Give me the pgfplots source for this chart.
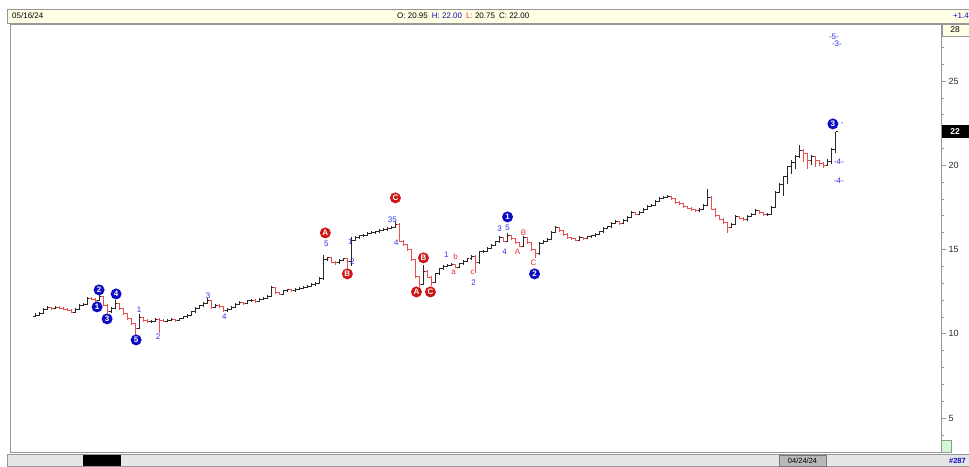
\documentclass[border=0pt]{standalone}
\usepackage{pgfplots}
\pgfplotsset{compat=1.18}
\usepackage{pgfplotstable}
\usepackage{fontspec}
\setmainfont{Liberation Sans}

\definecolor{wblue}{RGB}{12,12,195}
\definecolor{wred}{RGB}{205,22,22}
\definecolor{lblue}{RGB}{45,45,230}
\definecolor{lred}{RGB}{228,50,50}
\definecolor{barred}{RGB}{236,78,78}
\definecolor{barblk}{RGB}{40,40,40}
\definecolor{hdr}{RGB}{255,255,230}
\definecolor{ftr}{RGB}{230,230,230}
\definecolor{frame}{RGB}{150,150,150}

% open / close ticks of an OHLC bar
\pgfdeclareplotmark{cltick}{\pgfpathmoveto{\pgfpointorigin}\pgfpathlineto{\pgfpoint{\pgfplotmarksize}{0pt}}\pgfusepathqstroke}
\pgfdeclareplotmark{optick}{\pgfpathmoveto{\pgfpointorigin}\pgfpathlineto{\pgfpoint{-\pgfplotmarksize}{0pt}}\pgfusepathqstroke}

\tikzset{
  bluedot/.style={circle, fill=wblue, text=white, inner sep=0pt, minimum size=11pt, font=\bfseries\fontsize{8}{8}\selectfont},
  reddot/.style={circle, fill=wred, text=white, inner sep=0pt, minimum size=11pt, font=\bfseries\fontsize{8}{8}\selectfont},
  blab/.style={text=lblue, inner sep=0pt, font=\fontsize{8}{8}\selectfont},
  rlab/.style={text=lred, inner sep=0pt, font=\fontsize{8}{8}\selectfont},
}

% bars that closed up: i open high low close
\pgfplotstableread{
i o h l c
0 11.05 11.20 10.98 11.10
1 11.10 11.30 11.05 11.20
2 11.20 11.55 11.15 11.45
3 11.45 11.62 11.40 11.55
5 11.50 11.66 11.45 11.58
10 11.28 11.52 11.24 11.45
11 11.45 11.78 11.40 11.70
12 11.70 11.85 11.65 11.75
13 11.75 12.18 11.70 12.10
16 11.98 12.30 11.92 12.20
19 11.30 11.58 11.25 11.50
20 11.50 12.00 11.45 11.80
26 10.30 11.15 10.25 10.95
29 10.70 10.82 10.65 10.75
30 10.75 10.92 10.70 10.85
33 10.75 10.88 10.70 10.80
34 10.80 10.92 10.75 10.85
36 10.78 10.96 10.74 10.90
37 10.90 11.06 10.85 11.00
38 11.00 11.16 10.95 11.10
39 11.10 11.36 11.05 11.30
40 11.30 11.56 11.25 11.50
41 11.50 11.72 11.45 11.65
42 11.65 11.86 11.60 11.80
43 11.80 12.10 11.75 11.95
45 11.55 11.78 11.50 11.70
48 11.35 11.52 11.30 11.45
49 11.45 11.62 11.40 11.55
50 11.55 11.82 11.50 11.75
51 11.75 11.92 11.70 11.85
53 11.80 12.02 11.75 11.95
54 11.95 12.08 11.90 12.00
56 11.92 12.12 11.88 12.05
57 12.05 12.18 12.00 12.10
58 12.10 12.28 12.05 12.20
59 12.20 12.85 12.15 12.75
62 12.35 12.62 12.30 12.55
63 12.55 12.68 12.50 12.60
65 12.55 12.72 12.50 12.65
66 12.65 12.78 12.60 12.70
67 12.70 12.82 12.65 12.75
68 12.75 12.88 12.70 12.80
69 12.80 12.98 12.75 12.90
70 12.90 13.08 12.85 13.00
71 13.00 13.35 12.95 13.25
72 13.25 14.65 13.20 14.40
73 14.40 14.58 14.30 14.50
76 14.20 14.42 14.15 14.35
77 14.35 14.52 14.30 14.45
79 14.30 15.75 14.00 15.55
80 15.55 15.78 15.50 15.70
81 15.70 15.88 15.62 15.80
82 15.80 15.92 15.75 15.85
83 15.85 16.02 15.80 15.95
84 15.95 16.08 15.90 16.00
85 16.00 16.10 15.92 16.05
86 16.05 16.22 16.00 16.15
87 16.15 16.28 16.10 16.20
88 16.20 16.32 16.12 16.25
89 16.25 16.38 16.20 16.30
90 16.30 16.70 16.25 16.50
97 12.95 14.10 12.90 13.70
100 13.05 13.62 13.00 13.55
101 13.55 13.92 13.50 13.85
102 13.85 14.08 13.80 14.00
103 14.00 14.12 13.95 14.05
104 14.05 14.18 14.00 14.10
106 13.95 14.22 13.90 14.15
107 14.15 14.38 14.10 14.30
108 14.30 14.52 14.25 14.45
109 14.45 14.68 14.40 14.60
111 14.20 14.92 14.15 14.85
112 14.85 14.98 14.80 14.90
113 14.90 15.12 14.85 15.05
114 15.05 15.32 15.00 15.25
115 15.25 15.52 15.20 15.45
116 15.45 15.78 15.40 15.70
118 15.50 16.00 15.45 15.80
122 15.20 15.78 15.15 15.70
126 14.75 15.42 14.70 15.35
127 15.35 15.58 15.30 15.50
128 15.50 15.68 15.45 15.60
129 15.60 16.08 15.55 16.00
130 16.00 16.38 15.95 16.30
136 15.55 15.78 15.50 15.70
138 15.65 15.82 15.60 15.75
139 15.75 15.88 15.70 15.80
140 15.80 15.98 15.75 15.90
141 15.90 16.12 15.85 16.05
142 16.05 16.32 16.00 16.25
143 16.25 16.42 16.20 16.35
144 16.35 16.62 16.30 16.55
145 16.55 16.72 16.50 16.65
147 16.55 16.78 16.50 16.70
148 16.70 16.98 16.65 16.90
149 16.90 17.28 16.85 17.20
151 17.10 17.28 17.05 17.20
152 17.20 17.48 17.15 17.40
153 17.40 17.62 17.35 17.55
154 17.55 17.68 17.50 17.60
155 17.60 17.92 17.55 17.85
156 17.85 18.12 17.80 18.05
157 18.05 18.18 18.00 18.10
158 18.10 18.25 18.05 18.15
166 17.30 17.48 17.25 17.40
167 17.40 17.68 17.35 17.60
168 17.60 18.60 17.55 18.10
174 16.30 16.58 16.25 16.50
175 16.50 17.02 16.45 16.95
178 16.75 17.02 16.70 16.95
179 16.95 17.18 16.90 17.10
180 17.10 17.38 17.05 17.30
183 17.05 17.18 17.00 17.10
184 17.10 17.58 17.05 17.50
185 17.50 18.48 17.45 18.40
186 18.40 18.92 18.35 18.85
187 18.85 19.38 18.20 19.30
188 19.30 19.98 18.90 19.90
189 19.90 20.30 19.50 20.15
190 20.15 20.58 19.80 20.50
191 20.50 21.20 20.40 20.90
194 20.30 20.60 20.00 20.50
198 20.00 20.35 19.95 20.20
199 20.20 21.00 20.10 20.95
200 20.95 22.00 20.75 22.00
}\upbars

% bars that closed down
\pgfplotstableread{
i o h l c
4 11.55 11.60 11.42 11.50
6 11.58 11.62 11.44 11.52
7 11.52 11.58 11.38 11.45
8 11.45 11.50 11.32 11.40
9 11.40 11.45 11.20 11.28
14 12.10 12.16 11.98 12.05
15 12.05 12.10 11.90 11.98
17 12.20 12.25 11.62 11.70
18 11.70 11.75 11.22 11.30
21 11.80 11.85 11.42 11.50
22 11.50 11.55 11.12 11.20
23 11.20 11.25 10.82 10.90
24 10.90 10.95 10.52 10.60
25 10.60 10.65 9.95 10.30
27 10.95 11.00 10.72 10.80
28 10.80 10.85 10.62 10.70
31 10.85 10.95 10.05 10.80
32 10.80 10.85 10.68 10.75
35 10.85 10.90 10.70 10.78
44 11.95 12.00 11.48 11.55
46 11.70 11.75 11.52 11.60
47 11.60 11.65 11.28 11.35
52 11.85 11.90 11.72 11.80
55 12.00 12.05 11.85 11.92
60 12.75 12.80 12.38 12.45
61 12.45 12.50 12.28 12.35
64 12.60 12.65 12.48 12.55
74 14.50 14.55 14.18 14.25
75 14.25 14.30 14.10 14.20
78 14.45 14.50 13.70 14.30
91 16.50 16.55 15.42 15.50
92 15.50 15.58 15.22 15.30
93 15.30 15.35 14.92 15.00
94 15.00 15.05 14.32 14.40
95 14.40 14.45 13.32 13.40
96 13.40 13.45 12.80 12.95
98 13.70 13.78 13.28 13.35
99 13.35 13.40 12.85 13.05
105 14.10 14.15 13.88 13.95
110 14.60 14.65 13.60 14.20
117 15.70 15.75 15.42 15.50
119 15.80 15.85 15.58 15.65
120 15.65 15.70 15.32 15.40
121 15.40 15.45 15.12 15.20
123 15.70 15.75 15.32 15.40
124 15.40 15.45 14.92 15.00
125 15.00 15.05 14.50 14.75
131 16.30 16.35 16.02 16.10
132 16.10 16.15 15.82 15.90
133 15.90 15.95 15.62 15.70
134 15.70 15.75 15.58 15.65
135 15.65 15.70 15.48 15.55
137 15.70 15.75 15.58 15.65
146 16.65 16.70 16.48 16.55
150 17.20 17.25 17.02 17.10
159 18.15 18.20 17.92 18.00
160 18.00 18.05 17.72 17.80
161 17.80 17.85 17.62 17.70
162 17.70 17.75 17.48 17.55
163 17.55 17.60 17.38 17.45
164 17.45 17.50 17.28 17.35
165 17.35 17.40 17.22 17.30
169 18.10 18.15 17.32 17.40
170 17.40 17.45 16.92 17.00
171 17.00 17.05 16.72 16.80
172 16.80 16.85 16.52 16.60
173 16.60 16.65 16.00 16.30
176 16.95 17.00 16.78 16.85
177 16.85 16.90 16.68 16.75
181 17.30 17.35 17.12 17.20
182 17.20 17.25 16.98 17.05
192 20.90 20.95 20.20 20.70
193 20.70 20.75 19.80 20.30
195 20.50 20.55 19.90 20.25
196 20.25 20.30 19.95 20.10
197 20.10 20.18 19.85 20.00
}\dnbars

\begin{document}
\begin{tikzpicture}[x=1pt, y=1pt]
\begin{axis}[
    name=ax,
    scale only axis, width=931pt, height=428pt,
    xmin=-6.25, xmax=226.25,
    ymin=2.98, ymax=28.38,
    xtick=\empty,
    ytick={5,10,15,20,25},
    minor ytick={4,6,7,8,9,11,12,13,14,16,17,18,19,21,22,23,24,26,27},
    ytick pos=right,
    yticklabel pos=right,
    tick align=outside,
    major tick length=5pt, minor tick length=2.5pt,
    every tick/.style={frame, line width=0.6pt},
    axis line style={frame, line width=0.8pt},
    tick label style={font=\fontsize{9}{9}\selectfont, text=barblk},
    yticklabel style={xshift=-1pt},
    /pgf/number format/assume math mode=true,
    clip=false,
]
% up bars (black): high-low line with the close tick, then the open tick
\addplot[barblk, line width=1pt, only marks, mark=cltick, mark size=2pt,
  error bars/.cd, y dir=both, y explicit, error mark=none,
  error bar style={barblk, line width=1pt}]
  table[x=i, y=c, y error plus expr=\thisrow{h}-\thisrow{c},
        y error minus expr=\thisrow{c}-\thisrow{l}] {\upbars};
\addplot[barblk, line width=1pt, only marks, mark=optick, mark size=2pt]
  table[x=i, y=o] {\upbars};
% down bars (red)
\addplot[barred, line width=1pt, only marks, mark=cltick, mark size=2pt,
  error bars/.cd, y dir=both, y explicit, error mark=none,
  error bar style={barred, line width=1pt}]
  table[x=i, y=c, y error plus expr=\thisrow{h}-\thisrow{c},
        y error minus expr=\thisrow{c}-\thisrow{l}] {\dnbars};
\addplot[barred, line width=1pt, only marks, mark=optick, mark size=2pt]
  table[x=i, y=o] {\dnbars};

% wave counts: circled
\node[bluedot] at (axis cs:15.5,11.59) {1};
\node[bluedot] at (axis cs:16,12.60) {2};
\node[bluedot] at (axis cs:18,10.88) {3};
\node[bluedot] at (axis cs:20.25,12.36) {4};
\node[bluedot] at (axis cs:25.25,9.63) {5};
\node[bluedot] at (axis cs:118,16.93) {1};
\node[bluedot] at (axis cs:124.75,13.55) {2};
\node[bluedot] at (axis cs:199.25,22.45) {3};
\node[reddot] at (axis cs:72.5,15.98) {A};
\node[reddot] at (axis cs:78,13.55) {B};
\node[reddot] at (axis cs:90,18.06) {C};
\node[reddot] at (axis cs:95.25,12.48) {A};
\node[reddot] at (axis cs:97,14.50) {B};
\node[reddot] at (axis cs:98.75,12.48) {C};
% wave counts: plain
\node[blab] at (axis cs:26,11.41) {1};
\node[blab] at (axis cs:30.75,9.81) {2};
\node[blab] at (axis cs:43.25,12.24) {3};
\node[blab] at (axis cs:47.25,10.99) {4};
\node[blab] at (axis cs:72.75,15.33) {5};
\node[blab] at (axis cs:78.75,15.44) {1};
\node[blab] at (axis cs:79.25,14.26) {2};
\node[blab] at (axis cs:89.25,16.75) {35};
\node[blab] at (axis cs:90.25,15.39) {4};
\node[blab] at (axis cs:102.75,14.67) {1};
\node[blab] at (axis cs:109.5,13.01) {2};
\node[blab] at (axis cs:116,16.22) {3};
\node[blab] at (axis cs:118,16.28) {5};
\node[blab] at (axis cs:117.25,14.85) {4};
\node[rlab] at (axis cs:104.5,13.66) {a};
\node[rlab] at (axis cs:105,14.55) {b};
\node[rlab] at (axis cs:109.25,13.66) {c};
\node[rlab] at (axis cs:120.5,14.85) {A};
\node[rlab] at (axis cs:122,15.98) {B};
\node[rlab] at (axis cs:124.5,14.20) {C};
\node[blab] at (axis cs:199.5,27.61) {-5-};
\node[blab] at (axis cs:200.25,27.20) {-3-};
\node[blab] at (axis cs:201.5,22.40) {-};
\node[blab] at (axis cs:200.75,20.19) {-4-};
\node[blab] at (axis cs:200.75,19.07) {-4-};
\end{axis}

% window decorations, in pixels from the image's lower left corner
\pgfresetboundingbox
\begin{scope}[shift={(ax.south west)}, shift={(-10,-14)}]
\path[use as bounding box] (0,0) rectangle (969,466);
% header bar
\draw[frame, fill=hdr, line width=0.6pt] (7,443) rectangle (969,457);
\node[anchor=west, font=\fontsize{8}{8}\selectfont, inner sep=0pt] at (12,450) {05/16/24};
\node[anchor=west, font=\fontsize{8}{8}\selectfont, inner sep=0pt] at (397,450)
  {O: 20.95\hspace{4pt}\textcolor{wblue}{H: 22.00}\hspace{4pt}\textcolor{lred}{L:} 20.75\hspace{4pt}C: 22.00};
\node[anchor=east, font=\fontsize{8}{8}\selectfont, text=wblue, inner sep=0pt] at (969,450) {+1.4};
% value boxes on the price axis
\draw[frame, fill=hdr, line width=0.5pt] (942,430) rectangle (969,442);
\node[font=\fontsize{8.5}{8.5}\selectfont, inner sep=0pt] at (955,436) {28};
\fill[black] (942,328) rectangle (969,341);
\node[font=\bfseries\fontsize{8.5}{8.5}\selectfont, text=white, inner sep=0pt] at (955,334.5) {22};
\draw[frame, fill=ftr!60!green!40, line width=0.4pt] (941,14) rectangle (951,26);
% footer bar
\draw[frame, fill=ftr, line width=0.6pt] (7,0) rectangle (969,12);
\fill[black] (83,0) rectangle (121,11);
\draw[frame!80!black, fill=ftr!80!black, line width=0.4pt] (779,0) rectangle (826,11);
\node[font=\fontsize{7.5}{7.5}\selectfont, inner sep=0pt] at (802.5,5.5) {04/24/24};
\node[anchor=east, font=\bfseries\fontsize{7.5}{7.5}\selectfont, text=wblue, inner sep=0pt] at (966,5.5) {\#287};
\end{scope}
\end{tikzpicture}
\end{document}
